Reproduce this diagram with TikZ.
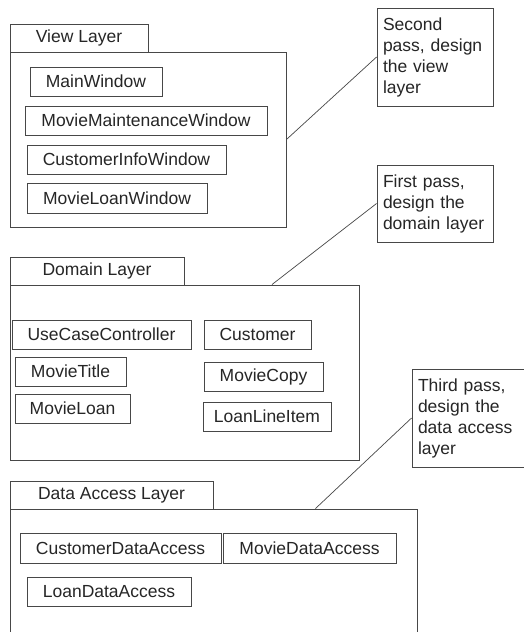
\documentclass[tikz,border=0pt]{standalone}
\usepackage{fontspec}
\setmainfont{Liberation Sans}
\usetikzlibrary{calc}
\tikzset{
  cls/.style={draw=black!72, line width=0.9pt, text=black!85,
    font=\fontsize{17.5}{21}\selectfont, inner sep=0pt},
  note/.style={draw=black!72, line width=0.9pt, text=black!85,
    font=\fontsize{17.5}{21}\selectfont, inner xsep=6pt, inner ysep=0pt,
    text width=104pt, minimum width=116pt, align=left},
  conn/.style={draw=black!72, line width=0.7pt},
}
\newcommand\boxat[6]{\node[cls, minimum width={(#4-#2)*1pt}, minimum height={(#5-#3)*1pt}] (#1) at ({(#2+#4)/2},{(#3+#5)/2}) {#6};}
\begin{document}
\begin{tikzpicture}[x=1pt,y=-1pt]
\useasboundingbox (0,0) rectangle (524,632);
\clip (0,0) rectangle (524,632);
\fill[white] (0,0) rectangle (524,632);
% View layer
\boxat{viewtab}{10}{24}{148}{52}{View Layer}
\boxat{viewbody}{10}{52}{286}{227}{}
\boxat{mainwin}{30}{67}{162}{96}{MainWindow}
\boxat{mmwin}{25}{106}{267}{135}{MovieMaintenanceWindow}
\boxat{ciwin}{27}{145}{226}{174}{CustomerInfoWindow}
\boxat{mlwin}{27}{183}{207}{213}{MovieLoanWindow}
% Domain layer
\boxat{domtab}{10}{257}{184}{285}{Domain Layer}
\boxat{dombody}{10}{285}{359}{460}{}
\boxat{ucc}{12}{320}{191}{349}{UseCaseController}
\boxat{mtitle}{15}{357}{126}{386}{MovieTitle}
\boxat{mloan}{15}{394}{130}{423}{MovieLoan}
\boxat{cust}{204}{320}{311}{349}{Customer}
\boxat{mcopy}{204}{362}{323}{391}{MovieCopy}
\boxat{lli}{203}{402}{331}{431}{LoanLineItem}
% Data access layer
\boxat{datatab}{10}{481}{213}{509}{Data Access Layer}
\boxat{databody}{10}{509}{417}{660}{}
\boxat{cda}{20}{533}{221}{563}{CustomerDataAccess}
\boxat{mda}{223}{533}{396}{563}{MovieDataAccess}
\boxat{lda}{27}{577}{191}{606}{LoanDataAccess}
% Notes
\node[note, minimum height=98pt] (note1) at (435,57) {Second\\pass, design\\the view\\layer};
\node[note, minimum height=77pt] (note2) at (435,203.5) {First pass,\\design the\\domain layer};
\node[note, minimum height=98pt] (note3) at (470,418) {Third pass,\\design the\\data access\\layer};
% Connectors
\draw[conn] (viewbody.east) -- (note1.west);
\draw[conn] ($(dombody.north west)!0.75!(dombody.north east)$) -- (note2.west);
\draw[conn] ($(databody.north west)!0.75!(databody.north east)$) -- (note3.west);
\end{tikzpicture}
\end{document}
